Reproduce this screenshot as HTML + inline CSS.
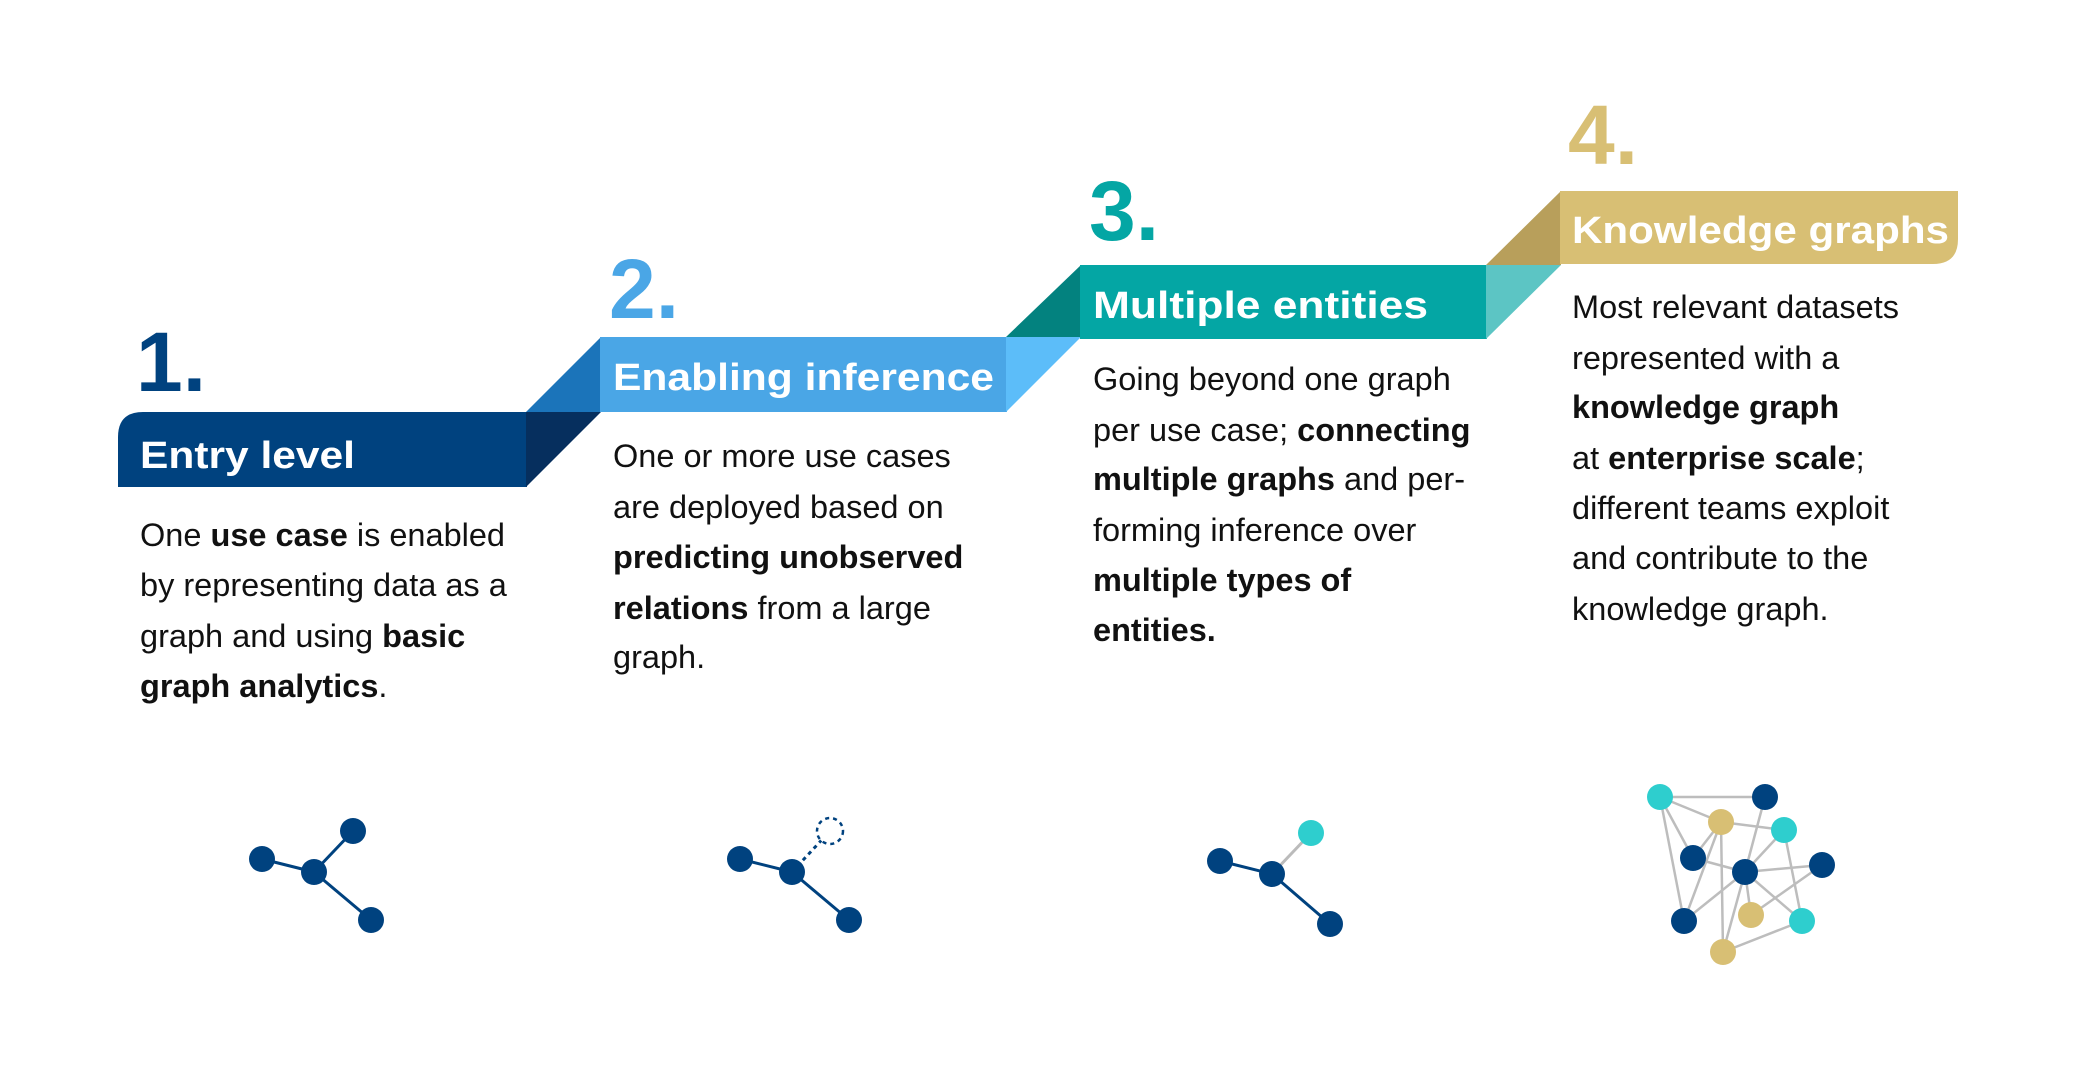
<!DOCTYPE html>
<html><head><meta charset="utf-8"><style>
html,body{margin:0;padding:0;background:#fff;}
svg{display:block;}
text{font-family:"Liberation Sans",sans-serif;}
.b{font-size:32.5px;fill:#111;}
.t{font-size:38px;font-weight:bold;fill:#fff;}
.n{font-size:84px;font-weight:bold;}
</style></head><body>
<svg width="2084" height="1083" viewBox="0 0 2084 1083" xmlns="http://www.w3.org/2000/svg">
<rect width="2084" height="1083" fill="#fff"/>
<path d="M118,487 L118,437 Q118,412 143,412 L527,412 L527,487 Z" fill="#00427f"/>
<polygon points="526,412 601,412 526,487" fill="#062f5e"/>
<polygon points="526,412 601,337 601,412" fill="#1b74ba"/>
<rect x="600" y="337" width="407" height="75" fill="#4aa6e6"/>
<polygon points="1006,337 1081,337 1006,412" fill="#5cbdf9"/>
<polygon points="1006,337 1081,265 1081,337" fill="#03827f"/>
<rect x="1080" y="265" width="407" height="74" fill="#04a6a4"/>
<polygon points="1486,265 1561,265 1486,339" fill="#5cc5c4"/>
<polygon points="1486,265 1561,191 1561,265" fill="#b89f5b"/>
<path d="M1560,191 L1958,191 L1958,239 Q1958,264 1933,264 L1560,264 Z" fill="#d8bf74"/>

<text class="n" x="136" y="391" fill="#00427f">1.</text>
<text class="n" x="609" y="318" fill="#4aa6e6">2.</text>
<text class="n" x="1089" y="240" fill="#04a6a4">3.</text>
<text class="n" x="1568" y="164" fill="#d8bf74">4.</text>

<text class="t" x="140" y="468" textLength="215" lengthAdjust="spacingAndGlyphs">Entry level</text>
<text class="t" x="613" y="390" textLength="381" lengthAdjust="spacingAndGlyphs">Enabling inference</text>
<text class="t" x="1093" y="318" textLength="335" lengthAdjust="spacingAndGlyphs">Multiple entities</text>
<text class="t" x="1572" y="243" textLength="377" lengthAdjust="spacingAndGlyphs">Knowledge graphs</text>

<text class="b" x="140" y="546">One <tspan font-weight="bold">use case</tspan> is enabled</text>
<text class="b" x="140" y="596">by representing data as a</text>
<text class="b" x="140" y="647">graph and using <tspan font-weight="bold">basic</tspan></text>
<text class="b" x="140" y="697"><tspan font-weight="bold">graph analytics</tspan>.</text>
<text class="b" x="613" y="467">One or more use cases</text>
<text class="b" x="613" y="518">are deployed based on</text>
<text class="b" x="613" y="568" font-weight="bold">predicting unobserved</text>
<text class="b" x="613" y="619"><tspan font-weight="bold">relations</tspan> from a large</text>
<text class="b" x="613" y="668">graph.</text>
<text class="b" x="1093" y="390">Going beyond one graph</text>
<text class="b" x="1093" y="441">per use case; <tspan font-weight="bold">connecting</tspan></text>
<text class="b" x="1093" y="490"><tspan font-weight="bold">multiple graphs</tspan> and per-</text>
<text class="b" x="1093" y="541">forming inference over</text>
<text class="b" x="1093" y="591" font-weight="bold">multiple types of</text>
<text class="b" x="1093" y="641" font-weight="bold">entities.</text>
<text class="b" x="1572" y="318">Most relevant datasets</text>
<text class="b" x="1572" y="369">represented with a</text>
<text class="b" x="1572" y="418" font-weight="bold">knowledge graph</text>
<text class="b" x="1572" y="469">at <tspan font-weight="bold">enterprise scale</tspan>;</text>
<text class="b" x="1572" y="519">different teams exploit</text>
<text class="b" x="1572" y="569">and contribute to the</text>
<text class="b" x="1572" y="620">knowledge graph.</text>

<g stroke="#00427f" stroke-width="3">
<line x1="262" y1="859" x2="314" y2="872"/><line x1="314" y1="872" x2="353" y2="831"/><line x1="314" y1="872" x2="371" y2="920"/>
</g>
<g fill="#00427f"><circle cx="262" cy="859" r="13"/><circle cx="314" cy="872" r="13"/><circle cx="353" cy="831" r="13"/><circle cx="371" cy="920" r="13"/></g>
<g stroke="#00427f" stroke-width="3">
<line x1="740" y1="859" x2="792" y2="872"/><line x1="792" y1="872" x2="849" y2="920"/>
<line x1="792" y1="872" x2="830" y2="831" stroke-dasharray="4,4"/>
</g>
<circle cx="830" cy="831" r="13" fill="#fff" stroke="#00427f" stroke-width="2.5" stroke-dasharray="4,4"/>
<g fill="#00427f"><circle cx="740" cy="859" r="13"/><circle cx="792" cy="872" r="13"/><circle cx="849" cy="920" r="13"/></g>
<g stroke-width="3">
<line x1="1220" y1="861" x2="1272" y2="874" stroke="#00427f"/><line x1="1272" y1="874" x2="1330" y2="924" stroke="#00427f"/>
<line x1="1272" y1="874" x2="1311" y2="833" stroke="#bbb"/>
</g>
<circle cx="1220" cy="861" r="13" fill="#00427f"/><circle cx="1272" cy="874" r="13" fill="#00427f"/><circle cx="1330" cy="924" r="13" fill="#00427f"/><circle cx="1311" cy="833" r="13" fill="#2ecece"/>
<g stroke="#bdbdbd" stroke-width="2.5">
<line x1="1660" y1="797" x2="1765" y2="797"/><line x1="1660" y1="797" x2="1721" y2="822"/><line x1="1660" y1="797" x2="1693" y2="858"/><line x1="1660" y1="797" x2="1684" y2="921"/>
<line x1="1721" y1="822" x2="1784" y2="830"/><line x1="1721" y1="822" x2="1693" y2="858"/><line x1="1721" y1="822" x2="1684" y2="921"/><line x1="1721" y1="822" x2="1723" y2="952"/>
<line x1="1765" y1="797" x2="1745" y2="872"/><line x1="1784" y1="830" x2="1745" y2="872"/><line x1="1784" y1="830" x2="1802" y2="921"/>
<line x1="1693" y1="858" x2="1745" y2="872"/><line x1="1745" y1="872" x2="1822" y2="865"/><line x1="1745" y1="872" x2="1684" y2="921"/><line x1="1745" y1="872" x2="1723" y2="952"/><line x1="1745" y1="872" x2="1751" y2="915"/><line x1="1745" y1="872" x2="1802" y2="921"/>
<line x1="1822" y1="865" x2="1751" y2="915"/><line x1="1723" y1="952" x2="1802" y2="921"/>
</g>
<g>
<circle cx="1660" cy="797" r="13" fill="#2ecece"/><circle cx="1765" cy="797" r="13" fill="#00427f"/><circle cx="1721" cy="822" r="13" fill="#d8bf74"/><circle cx="1784" cy="830" r="13" fill="#2ecece"/>
<circle cx="1693" cy="858" r="13" fill="#00427f"/><circle cx="1745" cy="872" r="13" fill="#00427f"/><circle cx="1822" cy="865" r="13" fill="#00427f"/><circle cx="1751" cy="915" r="13" fill="#d8bf74"/>
<circle cx="1684" cy="921" r="13" fill="#00427f"/><circle cx="1802" cy="921" r="13" fill="#2ecece"/><circle cx="1723" cy="952" r="13" fill="#d8bf74"/>
</g>
</svg>
</body></html>
